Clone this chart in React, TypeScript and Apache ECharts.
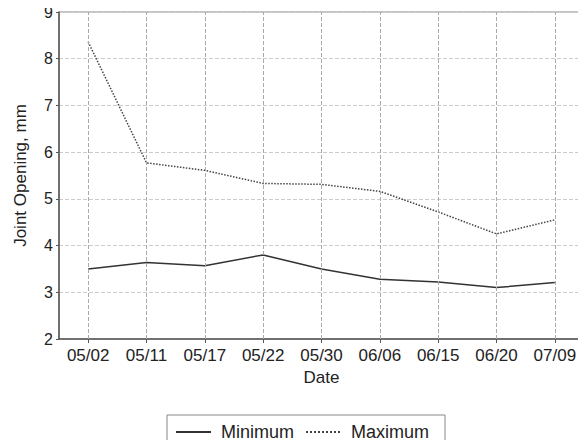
import React, { useEffect, useRef } from "react";
import * as echarts from "echarts";

const dates = ["05/02", "05/11", "05/17", "05/22", "05/30", "06/06", "06/15", "06/20", "07/09"];
const minimum = [3.5, 3.64, 3.57, 3.8, 3.5, 3.28, 3.22, 3.1, 3.21];
const maximum = [8.36, 5.77, 5.61, 5.33, 5.31, 5.16, 4.72, 4.25, 4.55];
const yTicks = { min: 2, max: 9, interval: 1 };

export default function App() {
  const ref = useRef<HTMLDivElement>(null);
  useEffect(() => {
    if (!ref.current) return;
    const chart = echarts.init(ref.current, null, { renderer: "svg" });
    const font = "Liberation Sans, Arial, sans-serif";
    chart.setOption({
      animation: false,
      backgroundColor: "#fff",
      grid: {
        left: 59,
        right: 2,
        top: 12,
        bottom: 109,
        show: true,
        borderColor: "#888",
        borderWidth: 1,
      },
      legend: {
        data: ["Minimum", "Maximum"],
        left: 167,
        top: 415,
        padding: [8, 16, 20, 8],
        itemWidth: 35,
        itemHeight: 14,
        itemGap: 11,
        borderColor: "#888",
        borderWidth: 1,
        itemStyle: { color: "transparent", borderColor: "transparent", borderWidth: 0 },
        textStyle: { fontFamily: font, fontSize: 18, color: "#222", padding: [0, 0, 0, 5] },
      },
      xAxis: {
        type: "category",
        data: dates,
        boundaryGap: true,
        name: "Date",
        nameLocation: "middle",
        nameGap: 30,
        nameTextStyle: { fontFamily: font, fontSize: 17, color: "#222" },
        axisLine: { lineStyle: { color: "#555", width: 1.5 } },
        axisTick: { show: true, alignWithLabel: true, length: 4, lineStyle: { color: "#555" } },
        axisLabel: { fontFamily: font, fontSize: 17, color: "#222", margin: 8, interval: 0 },
        splitLine: { show: false },
      },
      yAxis: {
        type: "value",
        min: yTicks.min,
        max: yTicks.max,
        interval: yTicks.interval,
        name: "Joint Opening, mm",
        nameLocation: "middle",
        nameGap: 30,
        nameTextStyle: { fontFamily: font, fontSize: 17, color: "#222" },
        axisLine: { show: true, lineStyle: { color: "#555", width: 1.5 } },
        axisTick: { show: true, length: 3, lineStyle: { color: "#555" } },
        axisLabel: { fontFamily: font, fontSize: 16, color: "#222", margin: 6 },
        splitLine: { show: true, lineStyle: { color: "#ccc", type: "dashed", width: 1 } },
      },
      series: [
        {
          name: "Minimum",
          type: "line",
          data: minimum,
          symbol: "none",
          lineStyle: { color: "#333", width: 1.5, type: "solid" },
          itemStyle: { color: "#333" },
          markLine: {
            silent: true,
            symbol: "none",
            label: { show: false },
            lineStyle: { color: "#aaa", type: "dashed", width: 1 },
            data: dates.map((d) => ({ xAxis: d })),
          },
          z: 3,
        },
        {
          name: "Maximum",
          type: "line",
          data: maximum,
          symbol: "none",
          lineStyle: { color: "#444", width: 1.5, type: "dotted" },
          itemStyle: { color: "#444" },
          z: 3,
        },
      ],
    });
    return () => chart.dispose();
  }, []);
  return <div ref={ref} style={{ width: 586, height: 448, margin: -8 }} />;
}
